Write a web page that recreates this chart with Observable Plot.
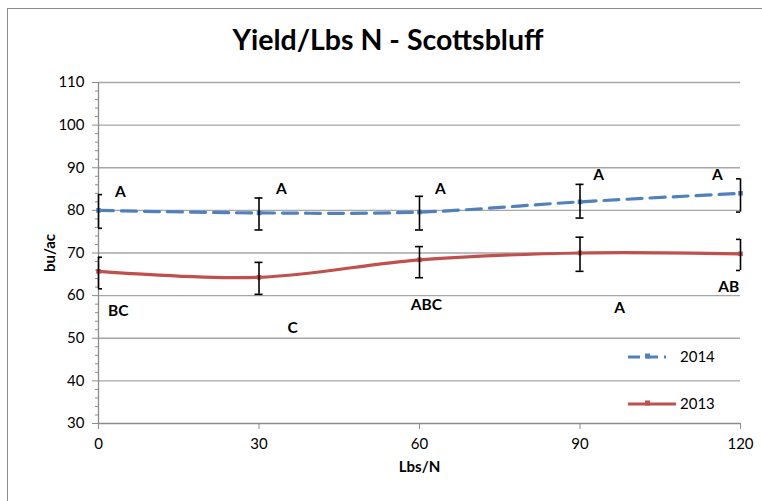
<!DOCTYPE html>
<html>
<head>
<meta charset="utf-8">
<script src="https://cdn.jsdelivr.net/npm/d3@7"></script>
<script src="https://cdn.jsdelivr.net/npm/@observablehq/plot@0.6"></script>
<style>
  html, body { margin: 0; padding: 0; background: #fff; }
  #wrap { position: relative; width: 762px; height: 501px; overflow: hidden; font-family: Lato, "Open Sans", sans-serif; }
  #frame { position: absolute; left: 7px; top: 8px; width: 800px; height: 600px; border: 1px solid #8c8c8c; box-sizing: border-box; }
  #title { position: absolute; left: 0; width: 776px; top: 22px; text-align: center; font-size: 28.5px; font-weight: bold; color: #000; }
  #chart { position: absolute; left: 0; top: 0; }
  #legend { position: absolute; left: 626px; top: 345px; font-size: 15px; color: #000; }
  .lg { position: relative; height: 24px; margin-bottom: 23px; }
  .lg svg { position: absolute; left: 0; top: 0; }
  .lg span { position: absolute; left: 54px; top: 2px; }
  g[aria-label="y-axis label"] text, g[aria-label="x-axis label"] text { font-weight: bold; }
</style>
</head>
<body>
<div id="wrap">
  <div id="frame"></div>
  <div id="chart"></div>
  <div id="title">Yield/Lbs N - Scottsbluff</div>
  <div id="legend"></div>
</div>
<script>
const rates = [0, 30, 60, 90, 120];
const xTicks = [0, 30, 60, 90, 120];
const yTicks = [30, 40, 50, 60, 70, 80, 90, 100, 110];

const yield2014 = [80.0, 79.4, 79.6, 82.0, 84.0];
const lo2014 = [75.8, 75.4, 75.4, 78.2, 79.6];
const hi2014 = [83.7, 82.9, 83.3, 86.1, 87.4];
const letters2014 = ["A", "A", "A", "A", "A"];
const letterX2014 = [4.1, 34.2, 63.9, 93.5, 115.7];
const letterY2014 = [84.4, 84.9, 85.1, 88.4, 88.4];

const yield2013 = [65.7, 64.3, 68.4, 70.0, 69.8];
const lo2013 = [61.6, 60.3, 64.2, 65.7, 65.9];
const hi2013 = [69.0, 67.8, 71.5, 73.7, 73.2];
const letters2013 = ["BC", "C", "ABC", "A", "AB"];
const letterX2013 = [3.7, 36.3, 61.3, 97.4, 117.8];
const letterY2013 = [56.5, 52.5, 57.7, 57.0, 62.1];

const seriesNames = ["2014", "2013"];
const seriesColors = ["#4F81BD", "#C0504D"];

function rows(name, ys, lo, hi, letters, lx, ly) {
  return rates.map((r, i) => ({series: name, x: r, y: ys[i], lo: lo[i], hi: hi[i], letter: letters[i], lx: lx[i], ly: ly[i]}));
}
const d2014 = rows("2014", yield2014, lo2014, hi2014, letters2014, letterX2014, letterY2014);
const d2013 = rows("2013", yield2013, lo2013, hi2013, letters2013, letterX2013, letterY2013);
const all = d2014.concat(d2013);
const capHalf = 0.75;

const plot = Plot.plot({
  width: 762,
  height: 501,
  marginLeft: 98,
  marginRight: 22,
  marginTop: 82,
  marginBottom: 78,
  style: {fontFamily: "Lato, 'Open Sans', sans-serif", fontSize: "15px", color: "#000", background: "transparent"},
  x: {domain: [0, 120]},
  y: {domain: [30, 110]},
  marks: [
    Plot.gridY(yTicks.filter(t => t > 30), {stroke: "#a6a6a6", strokeOpacity: 1, strokeWidth: 1.3}),
    Plot.ruleY([30], {stroke: "#8c8c8c", strokeWidth: 1.3}),
    Plot.ruleX([0], {stroke: "#8c8c8c", strokeWidth: 1.3}),
    Plot.axisY(d3.range(30, 111, 2).filter(t => t % 10 !== 0), {tickSize: 3, text: null, stroke: "#8c8c8c", label: null}),
    Plot.axisY(yTicks, {tickSize: 6, tickPadding: 8, stroke: "#8c8c8c", fill: "#000", fontSize: 15,
      label: "bu/ac", labelAnchor: "center", labelArrow: "none", labelOffset: 54}),
    Plot.axisX(xTicks, {tickSize: 6, tickPadding: 9, stroke: "#8c8c8c", fill: "#000", fontSize: 15,
      label: "Lbs/N", labelAnchor: "center", labelArrow: "none", labelOffset: 48}),
    Plot.line(d2013, {x: "x", y: "y", stroke: seriesColors[1], strokeWidth: 3.2, curve: "catmull-rom"}),
    Plot.line(d2014, {x: "x", y: "y", stroke: seriesColors[0], strokeWidth: 3.2, curve: "catmull-rom", strokeDasharray: "15 8"}),
    Plot.dot(all, {x: "x", y: "y", symbol: "square", r: 2.6, fill: d => d.series === "2014" ? seriesColors[0] : seriesColors[1], stroke: null}),
    Plot.ruleX(all, {x: "x", y1: "lo", y2: "hi", stroke: "#000", strokeWidth: 1.6}),
    Plot.ruleY(all, {y: "lo", x1: d => d.x - capHalf, x2: d => d.x + capHalf, stroke: "#000", strokeWidth: 1.6, clip: true}),
    Plot.ruleY(all, {y: "hi", x1: d => d.x - capHalf, x2: d => d.x + capHalf, stroke: "#000", strokeWidth: 1.6, clip: true}),
    Plot.text(all, {x: "lx", y: "ly", text: "letter", fontWeight: "bold", fontSize: 15.5, fill: "#000"})
  ]
});
document.getElementById("chart").appendChild(plot);

// legend
const legend = document.getElementById("legend");
seriesNames.forEach((name, i) => {
  const item = document.createElement("div");
  item.className = "lg";
  const dashed = name === "2014";
  item.innerHTML = `<svg width="54" height="24"><line x1="2" x2="${dashed ? 40 : 50}" y1="12" y2="12" stroke="${seriesColors[i]}" stroke-width="3.2" ${dashed ? 'stroke-dasharray="12 6"' : ''}/><rect x="19" y="8.5" width="5" height="5" fill="${seriesColors[i]}"/></svg><span>${name}</span>`;
  legend.appendChild(item);
});
</script>
</body>
</html>
